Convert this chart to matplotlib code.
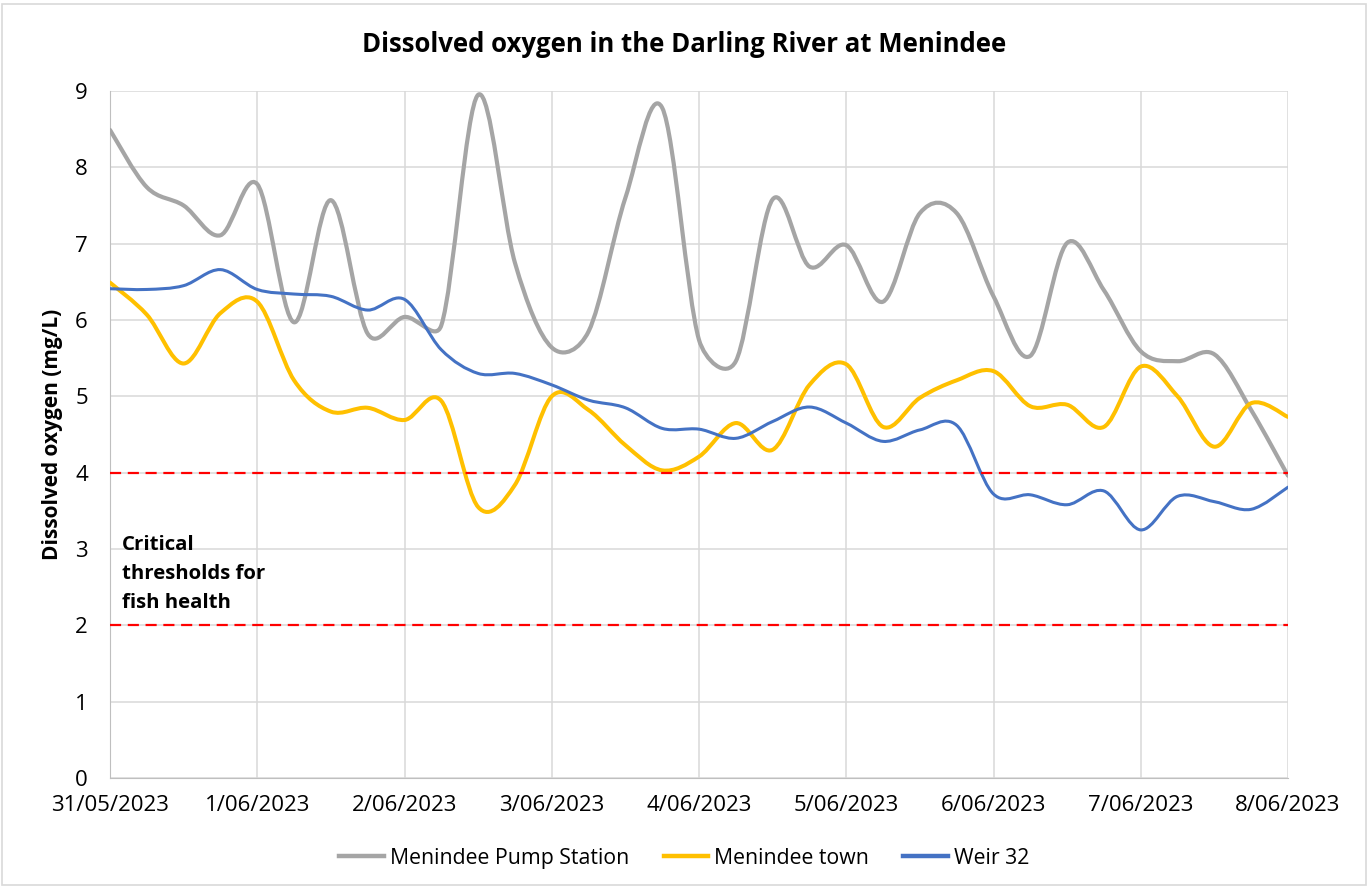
import numpy as np
import matplotlib
matplotlib.use("Agg")
import matplotlib.pyplot as plt
from matplotlib.path import Path
from matplotlib.patches import PathPatch, Rectangle
from matplotlib.lines import Line2D

plt.rcParams['font.family'] = ['Open Sans', 'DejaVu Sans']

# ---- data ----
date_labels = ["31/05/2023", "1/06/2023", "2/06/2023", "3/06/2023", "4/06/2023",
               "5/06/2023", "6/06/2023", "7/06/2023", "8/06/2023"]
# readings every 6 hours, in days since 31/05/2023
time_days = np.arange(33) * 0.25

pump_station = [8.49, 7.74, 7.50, 7.11, 7.78, 5.97, 7.57, 5.82, 6.04, 5.93, 8.95,
                6.75, 5.64, 5.85, 7.60, 8.78, 5.74, 5.46, 7.58, 6.70, 6.98, 6.24,
                7.40, 7.40, 6.31, 5.53, 7.01, 6.39, 5.59, 5.46, 5.55, 4.82, 3.96]
town = [6.49, 6.07, 5.43, 6.09, 6.24, 5.21, 4.80, 4.85, 4.69, 4.94, 3.55,
        3.84, 5.00, 4.82, 4.36, 4.03, 4.21, 4.65, 4.30, 5.15, 5.42, 4.60,
        4.98, 5.21, 5.33, 4.87, 4.89, 4.60, 5.39, 5.00, 4.34, 4.91, 4.73]
weir32 = [6.41, 6.40, 6.45, 6.66, 6.40, 6.34, 6.31, 6.13, 6.27, 5.61, 5.30,
          5.30, 5.15, 4.95, 4.85, 4.58, 4.57, 4.45, 4.67, 4.86, 4.65, 4.41,
          4.56, 4.62, 3.72, 3.71, 3.58, 3.76, 3.25, 3.69, 3.62, 3.52, 3.81]
thresholds = [4, 2]
series_names = ["Menindee Pump Station", "Menindee town", "Weir 32"]
series_colors = ["#A5A5A5", "#FFC000", "#4472C4"]
series_widths = [3.0, 2.9, 2.2]


def _clamp(t, limit):
    L = np.hypot(*t)
    if L > limit and L > 0:
        return t * (limit / L)
    return t


def smooth_path(ax, x, y):
    """Excel-like smoothed line: cubic Bezier (tangent/6), with control
    distances limited to half the segment length, in display space."""
    pts = ax.transData.transform(np.column_stack([x, y]))
    n = len(pts)
    verts = [pts[0]]
    codes = [Path.MOVETO]
    for i in range(n - 1):
        p0 = pts[max(i - 1, 0)]
        p1 = pts[i]
        p2 = pts[i + 1]
        p3 = pts[min(i + 2, n - 1)]
        d12 = np.hypot(*(p2 - p1))
        t1 = _clamp((p2 - p0) / 6.0, 0.5 * d12)
        t2 = _clamp((p3 - p1) / 6.0, 0.5 * d12)
        verts += [p1 + t1, p2 - t2, p2]
        codes += [Path.CURVE4] * 3
    verts = ax.transData.inverted().transform(np.array(verts))
    return Path(verts, codes)


fig = plt.figure(figsize=(13.69, 8.88), dpi=100)
ax = fig.add_axes([110 / 1369, 1 - 778 / 888, (1288 - 110) / 1369, (778 - 91) / 888])

ax.set_xlim(0, 8)
ax.set_ylim(0, 9)
ax.set_xticks(range(len(date_labels)))
ax.set_xticklabels(date_labels)
ax.set_yticks(range(0, 10))
ax.grid(True, color="#D9D9D9", lw=1.1, zorder=0)
ax.tick_params(length=0, labelsize=16, colors="black")
ax.tick_params(axis='x', pad=12)
ax.tick_params(axis='y', pad=16)
for s in ['top', 'right']:
    ax.spines[s].set_visible(False)
ax.spines['left'].set_color("#BFBFBF")
ax.spines['bottom'].set_color("#BFBFBF")
ax.set_axisbelow(True)

for vals, c, lw in zip([pump_station, town, weir32], series_colors, series_widths):
    p = smooth_path(ax, time_days, np.array(vals))
    ax.add_patch(PathPatch(p, facecolor='none', edgecolor=c, lw=lw,
                           capstyle='round', joinstyle='round', zorder=3))

for th in thresholds:
    ax.axhline(th, color="#FF0000", lw=1.6, linestyle=(0, (5, 3)), zorder=4)

ax.text(0.082, 2.67, "Critical\nthresholds for\nfish health", fontsize=14.7,
        fontweight='bold', ha='left', va='center', linespacing=1.6)

ax.set_ylabel("Dissolved oxygen (mg/L)", fontsize=15, fontweight='bold')
ax.yaxis.set_label_coords(-0.04, 0.5)
fig.suptitle("Dissolved oxygen in the Darling River at Menindee", fontsize=18.5,
             fontweight='bold', y=1 - 44 / 888, va='center')

handles = [Line2D([0], [0], color=c, lw=3.2) for c in series_colors]
fig.legend(handles, series_names, loc='center', bbox_to_anchor=(0.5, 1 - 858 / 888),
           ncol=3, frameon=False, fontsize=15.3, handlelength=2.1, columnspacing=1.6,
           handletextpad=0.3)

fig.patches.append(Rectangle((2 / 1369, 3 / 888), 1364 / 1369, 881 / 888,
                             transform=fig.transFigure, fill=False,
                             edgecolor="#D9D9D9", lw=1.2))

fig.savefig("out.png", dpi=100)
